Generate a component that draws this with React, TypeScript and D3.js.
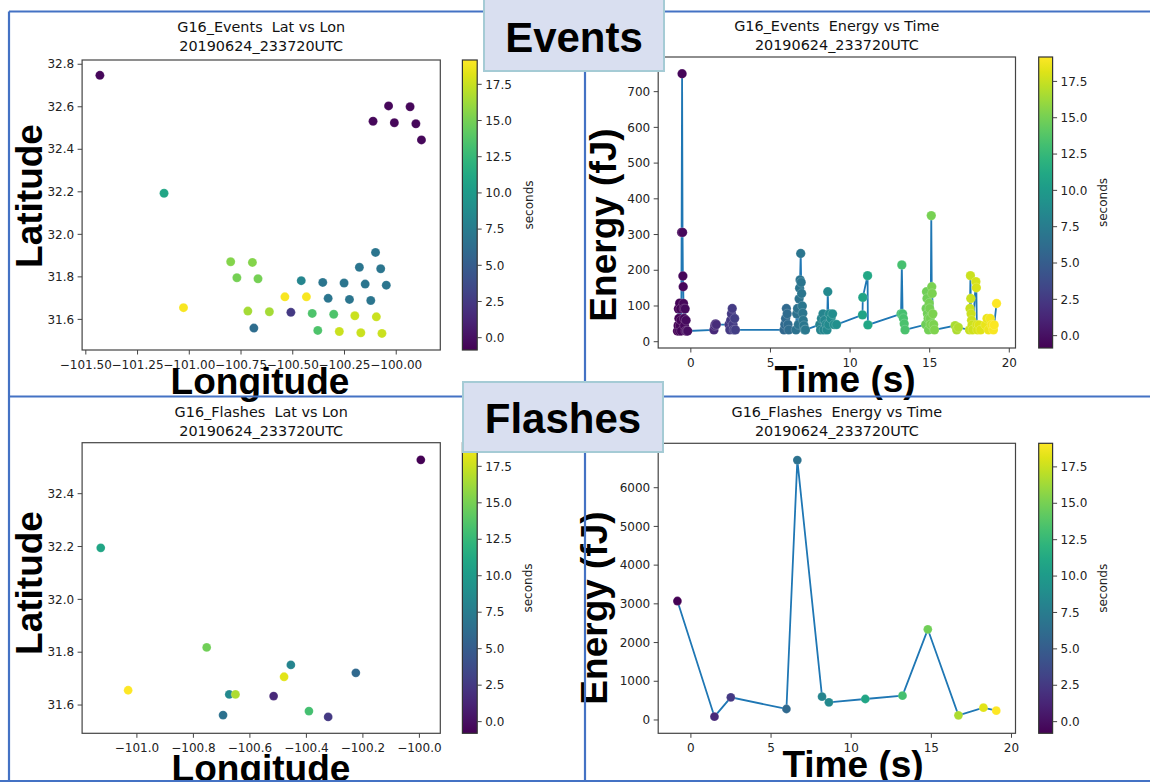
import React from 'react';
import * as d3 from 'd3';

// ---------- DATA ----------
// Events: Lat vs Lon
const evLon = [-101.432, -101.122, -101.028, -100.112, -100.037, -100.009, -99.933, -99.905, -99.878,
  -100.80, -100.695, -100.770, -100.668, -100.538, -100.434, -100.717, -100.613, -100.509, -100.688,
  -100.459, -100.355, -100.252, -100.150, -100.048, -100.178, -100.075, -100.100, -100.329, -100.226,
  -100.123, -100.406, -100.302, -100.200, -100.096, -100.379, -100.275, -100.171, -100.069];
const evLat = [32.748, 32.193, 31.655, 32.532, 32.604, 32.525, 32.600, 32.520, 32.444,
  31.871, 31.868, 31.796, 31.791, 31.706, 31.706, 31.639, 31.636, 31.633, 31.559,
  31.782, 31.774, 31.771, 31.766, 31.761, 31.845, 31.838, 31.915, 31.699, 31.694,
  31.689, 31.628, 31.624, 31.617, 31.612, 31.548, 31.543, 31.537, 31.534];
const evSec = [-0.5, 10.9, 19.0, -0.5, -0.5, -0.5, -0.5, -0.5, -0.5,
  15.5, 15.5, 15.0, 15.0, 19.0, 19.0, 16.5, 16.5, 2.5, 6.2,
  8.3, 6.9, 6.9, 6.9, 6.9, 6.9, 6.9, 6.9, 6.9, 6.9,
  6.9, 13.6, 13.6, 17.6, 17.6, 13.6, 17.6, 17.6, 17.6];

// Events: Energy vs Time
const evTime = [
  -0.84, -0.8, -0.78, -0.75, -0.72, -0.7, -0.68, -0.65, -0.62, -0.6, -0.58, -0.55, -0.52, -0.5, -0.48, -0.46, -0.44, -0.42, -0.4, -0.36, -0.33, -0.3, -0.25, -0.2,
  1.45, 1.5, 1.55, 1.6,
  2.4, 2.45, 2.5, 2.55, 2.6, 2.65, 2.7, 2.75, 2.8,
  5.85, 5.9, 5.95, 6.0, 6.05, 6.1, 6.15,
  6.6, 6.65, 6.7, 6.75, 6.8, 6.83, 6.86, 6.9, 6.93, 6.96, 7.0, 7.03, 7.06, 7.1, 7.15, 7.2,
  8.1, 8.15, 8.2, 8.3, 8.35, 8.4, 8.5, 8.55, 8.6, 8.65, 8.7, 8.8, 8.9, 9.0, 9.15,
  10.78, 10.8, 11.1, 11.12,
  13.2, 13.25, 13.3, 13.35, 13.4, 13.45,
  14.75, 14.78, 14.8, 14.83, 14.86, 14.9, 14.93, 14.97, 15.0, 15.03, 15.06, 15.1, 15.13, 15.16, 15.2, 15.25, 15.3,
  16.6, 16.7, 16.8,
  17.5, 17.53, 17.56, 17.58, 17.6, 17.63, 17.66, 17.7, 17.9, 17.93, 17.96, 18.0, 18.1, 18.2,
  18.5, 18.6, 18.7, 18.8, 18.9, 19.0, 19.05, 19.2];
const evEnergy = [
  30, 45, 92, 65, 30, 108, 45, 92, 60, 30, 306, 750, 306, 184, 154, 107, 92, 65, 45, 92, 30, 60, 30, 30,
  33, 45, 50, 48,
  48, 33, 60, 78, 93, 48, 33, 65, 33,
  33, 48, 65, 93, 78, 48, 33,
  33, 78, 93, 48, 120, 150, 173, 247, 166, 135, 100, 80, 60, 45, 33, 33,
  48, 33, 65, 78, 33, 60, 48, 33, 140, 48, 78, 65, 78, 48, 48,
  75, 124, 185, 47,
  78, 215, 78, 65, 50, 33,
  48, 93, 140, 121, 78, 65, 33, 108, 93, 65, 48, 353, 154, 135, 78, 48, 33,
  45, 33, 40,
  33, 93, 185, 121, 78, 60, 47, 33, 168, 151, 47, 33, 47, 33,
  47, 65, 33, 65, 47, 33, 47, 107];

// Flashes (ordered by time)
const flTime = [-0.84, 1.47, 2.49, 5.96, 6.64, 8.18, 8.61, 10.88, 13.2, 14.78, 16.69, 18.25, 19.05];
const flEnergy = [3073, 86, 585, 284, 6714, 603, 456, 542, 628, 2342, 120, 318, 241];
const flLon = [-99.995, -100.516, -100.323, -100.225, -100.695, -100.455, -100.673, -101.128, -100.391, -100.753, -100.651, -100.479, -101.031];
const flLat = [32.528, 31.634, 31.555, 31.722, 31.562, 31.752, 31.640, 32.195, 31.577, 31.818, 31.640, 31.707, 31.656];

// Ticks
const lonTicksEv = [-101.5, -101.25, -101.0, -100.75, -100.5, -100.25, -100.0];
const latTicksEv = [31.6, 31.8, 32.0, 32.2, 32.4, 32.6, 32.8];
const lonTicksFl = [-101.0, -100.8, -100.6, -100.4, -100.2, -100.0];
const latTicksFl = [31.6, 31.8, 32.0, 32.2, 32.4];
const timeTicks = [0, 5, 10, 15, 20];
const energyTicksEv = [0, 100, 200, 300, 400, 500, 600, 700];
const energyTicksFl = [0, 1000, 2000, 3000, 4000, 5000, 6000, 7000];
const cbTicks = [0, 2.5, 5, 7.5, 10, 12.5, 15, 17.5];

const evRange = [-0.85, 19.18];
const flRange = [-0.80, 19.12];

const FONT = "'DejaVu Sans', sans-serif";
const BIG = "'Liberation Sans', Arial, sans-serif";
const minus = (s: string) => s.replace(/-/g, '\u2212');

type Pt = { x: number; y: number; c: number };

type PanelProps = {
  id: string;
  box: [number, number, number, number]; // x0, y0, x1, y1
  xDomain: [number, number];
  yDomain: [number, number];
  xTicks: number[];
  yTicks: number[];
  xFmt: (v: number) => string;
  yFmt: (v: number) => string;
  title: [string, string];
  titleY: number;
  cbX: [number, number];
  cbRange: number[];
  secondsX: number;
  pts: Pt[];
  line: boolean;
  r: number;
};

function Panel(p: PanelProps) {
  const [x0, y0, x1, y1] = p.box;
  const xs = d3.scaleLinear().domain(p.xDomain).range([x0, x1]);
  const ys = d3.scaleLinear().domain(p.yDomain).range([y1, y0]);
  const cnorm = d3.scaleLinear().domain(p.cbRange).range([0, 1]);
  const col = (v: number) => d3.interpolateViridis(Math.max(0, Math.min(1, cnorm(v))));
  const cbs = d3.scaleLinear().domain(p.cbRange).range([y1, y0]);
  const cx = (x0 + x1) / 2;
  const lineGen = d3.line<Pt>().x(d => xs(d.x)).y(d => ys(d.y));
  const stops = d3.range(0, 1.0001, 0.05);
  const tickC = '#222';
  return (
    <g>
      <defs>
        <linearGradient id={p.id + 'grad'} x1="0" y1="1" x2="0" y2="0">
          {stops.map((s, i) => (
            <stop key={i} offset={s} stopColor={d3.interpolateViridis(s)} />
          ))}
        </linearGradient>
        <clipPath id={p.id + 'clip'}>
          <rect x={x0} y={y0} width={x1 - x0} height={y1 - y0} />
        </clipPath>
      </defs>
      {/* title */}
      <text x={cx} y={p.titleY} textAnchor="middle" fontFamily={FONT} fontSize={14.4} fill="#111" style={{ whiteSpace: 'pre' }}>{p.title[0]}</text>
      <text x={cx} y={p.titleY + 18.5} textAnchor="middle" fontFamily={FONT} fontSize={14.4} fill="#111">{p.title[1]}</text>
      {/* data */}
      <g clipPath={`url(#${p.id}clip)`}>
        {p.line && (
          <path d={lineGen(p.pts) || ''} fill="none" stroke="#1f77b4" strokeWidth={1.8} />
        )}
        {p.pts.map((d, i) => (
          <circle key={i} cx={xs(d.x)} cy={ys(d.y)} r={p.r} fill={col(d.c)} stroke="#fff" strokeOpacity={0.35} strokeWidth={0.5} />
        ))}
      </g>
      {/* frame */}
      <rect x={x0} y={y0} width={x1 - x0} height={y1 - y0} fill="none" stroke="#444" strokeWidth={1.2} />
      {/* x ticks */}
      {p.xTicks.map((t, i) => (
        <g key={'x' + i}>
          <line x1={xs(t)} x2={xs(t)} y1={y1} y2={y1 + 4.5} stroke="#444" strokeWidth={1} />
          <text x={xs(t)} y={y1 + 18.5} textAnchor="middle" fontFamily={FONT} fontSize={12} fill={tickC}>{p.xFmt(t)}</text>
        </g>
      ))}
      {/* y ticks */}
      {p.yTicks.map((t, i) => (
        <g key={'y' + i}>
          <line x1={x0 - 4.5} x2={x0} y1={ys(t)} y2={ys(t)} stroke="#444" strokeWidth={1} />
          <text x={x0 - 8} y={ys(t)} dy="0.35em" textAnchor="end" fontFamily={FONT} fontSize={12} fill={tickC}>{p.yFmt(t)}</text>
        </g>
      ))}
      {/* colorbar */}
      <rect x={p.cbX[0]} y={y0} width={p.cbX[1] - p.cbX[0]} height={y1 - y0} fill={`url(#${p.id}grad)`} stroke="#333" strokeWidth={1.2} />
      {cbTicks.map((t, i) => (
        <g key={'c' + i}>
          <line x1={p.cbX[1]} x2={p.cbX[1] + 4.5} y1={cbs(t)} y2={cbs(t)} stroke="#444" strokeWidth={1} />
          <text x={p.cbX[1] + 8} y={cbs(t)} dy="0.35em" fontFamily={FONT} fontSize={12} fill={tickC}>{t.toFixed(1)}</text>
        </g>
      ))}
      <text transform={`translate(${p.secondsX},${(y0 + y1) / 2}) rotate(-90)`} textAnchor="middle" dominantBaseline="central" fontFamily={FONT} fontSize={12} fill={tickC}>seconds</text>
    </g>
  );
}

function BigLabel({ x, y, text, rot }: { x: number; y: number; text: string; rot?: boolean }) {
  return (
    <text transform={`translate(${x},${y})${rot ? ' rotate(-90)' : ''}`} textAnchor="middle" fontFamily={BIG} fontWeight="bold" fontSize={37} fill="#000">{text}</text>
  );
}

export default function App() {
  const evLL: Pt[] = evLon.map((x, i) => ({ x, y: evLat[i], c: evSec[i] }));
  const evET: Pt[] = evTime.map((x, i) => ({ x, y: evEnergy[i], c: x }));
  const flLL: Pt[] = flLon.map((x, i) => ({ x, y: flLat[i], c: flTime[i] }));
  const flET: Pt[] = flTime.map((x, i) => ({ x, y: flEnergy[i], c: x }));
  const f2 = (v: number) => minus(d3.format('.2f')(v));
  const f1 = (v: number) => minus(d3.format('.1f')(v));
  const fi = (v: number) => d3.format('d')(v);
  const border = '#4472c4';
  return (
    <svg width={1150} height={782} style={{ position: 'absolute', left: 0, top: 0, background: '#fff' }}>
      <rect x={0} y={0} width={1150} height={782} fill="#fff" />
      <Panel id="tl" box={[82.1, 60, 440.3, 350]} xDomain={[-101.518, -99.787]} yDomain={[31.456, 32.82]}
        xTicks={lonTicksEv} yTicks={latTicksEv} xFmt={f2} yFmt={f1}
        title={['G16_Events  Lat vs Lon', '20190624_233720UTC']} titleY={32}
        cbX={[462.4, 477.2]} cbRange={evRange} secondsX={529} pts={evLL} line={false} r={4.5} />
      <Panel id="tr" box={[658.2, 57, 1015.5, 348]} xDomain={[-2.05, 20.39]} yDomain={[-17.6, 797]}
        xTicks={timeTicks} yTicks={energyTicksEv} xFmt={fi} yFmt={fi}
        title={['G16_Events  Energy vs Time', '20190624_233720UTC']} titleY={31}
        cbX={[1038.7, 1052.6]} cbRange={evRange} secondsX={1103} pts={evET} line={true} r={4.7} />
      <Panel id="bl" box={[82.1, 442.7, 440.3, 733.3]} xDomain={[-101.194, -99.926]} yDomain={[31.493, 32.593]}
        xTicks={lonTicksFl} yTicks={latTicksFl} xFmt={f1} yFmt={f1}
        title={['G16_Flashes  Lat vs Lon', '20190624_233720UTC']} titleY={417}
        cbX={[462.4, 477.2]} cbRange={flRange} secondsX={528} pts={flLL} line={false} r={4.4} />
      <Panel id="br" box={[658.2, 443.3, 1015.5, 733.3]} xDomain={[-2.04, 20.25]} yDomain={[-344, 7147]}
        xTicks={timeTicks} yTicks={energyTicksFl} xFmt={fi} yFmt={fi}
        title={['G16_Flashes  Energy vs Time', '20190624_233720UTC']} titleY={417}
        cbX={[1038.7, 1052.6]} cbRange={flRange} secondsX={1103} pts={flET} line={true} r={4.4} />

      {/* big axis labels */}
      <BigLabel x={42} y={196} text="Latitude" rot />
      <BigLabel x={260} y={394} text="Longitude" />
      <BigLabel x={616} y={225} text="Energy (fJ)" rot />
      <BigLabel x={845} y={392} text="Time (s)" />
      <BigLabel x={42} y={583} text="Latitude" rot />
      <BigLabel x={261} y={781} text="Longitude" />
      <BigLabel x={607} y={608} text="Energy (fJ)" rot />
      <BigLabel x={853} y={777} text="Time (s)" />

      {/* panel borders */}
      <g stroke={border} strokeWidth={2.2} fill="none">
        <line x1={9} y1={11.5} x2={1150} y2={11.5} />
        <line x1={9} y1={396.5} x2={1150} y2={396.5} />
        <line x1={0} y1={781} x2={1150} y2={781} />
        <line x1={9} y1={11.5} x2={9} y2={782} />
        <line x1={585} y1={11.5} x2={585} y2={782} />
      </g>

      {/* section labels */}
      <rect x={484} y={-1} width={180} height={72} fill="#d9dff0" stroke="#a5cbd5" strokeWidth={2} />
      <text x={574} y={52} textAnchor="middle" fontFamily={BIG} fontWeight="bold" fontSize={42} fill="#000">Events</text>
      <rect x={463} y={382} width={200} height={70} fill="#d9dff0" stroke="#a5cbd5" strokeWidth={2} />
      <text x={563} y={433} textAnchor="middle" fontFamily={BIG} fontWeight="bold" fontSize={42} fill="#000">Flashes</text>
    </svg>
  );
}
